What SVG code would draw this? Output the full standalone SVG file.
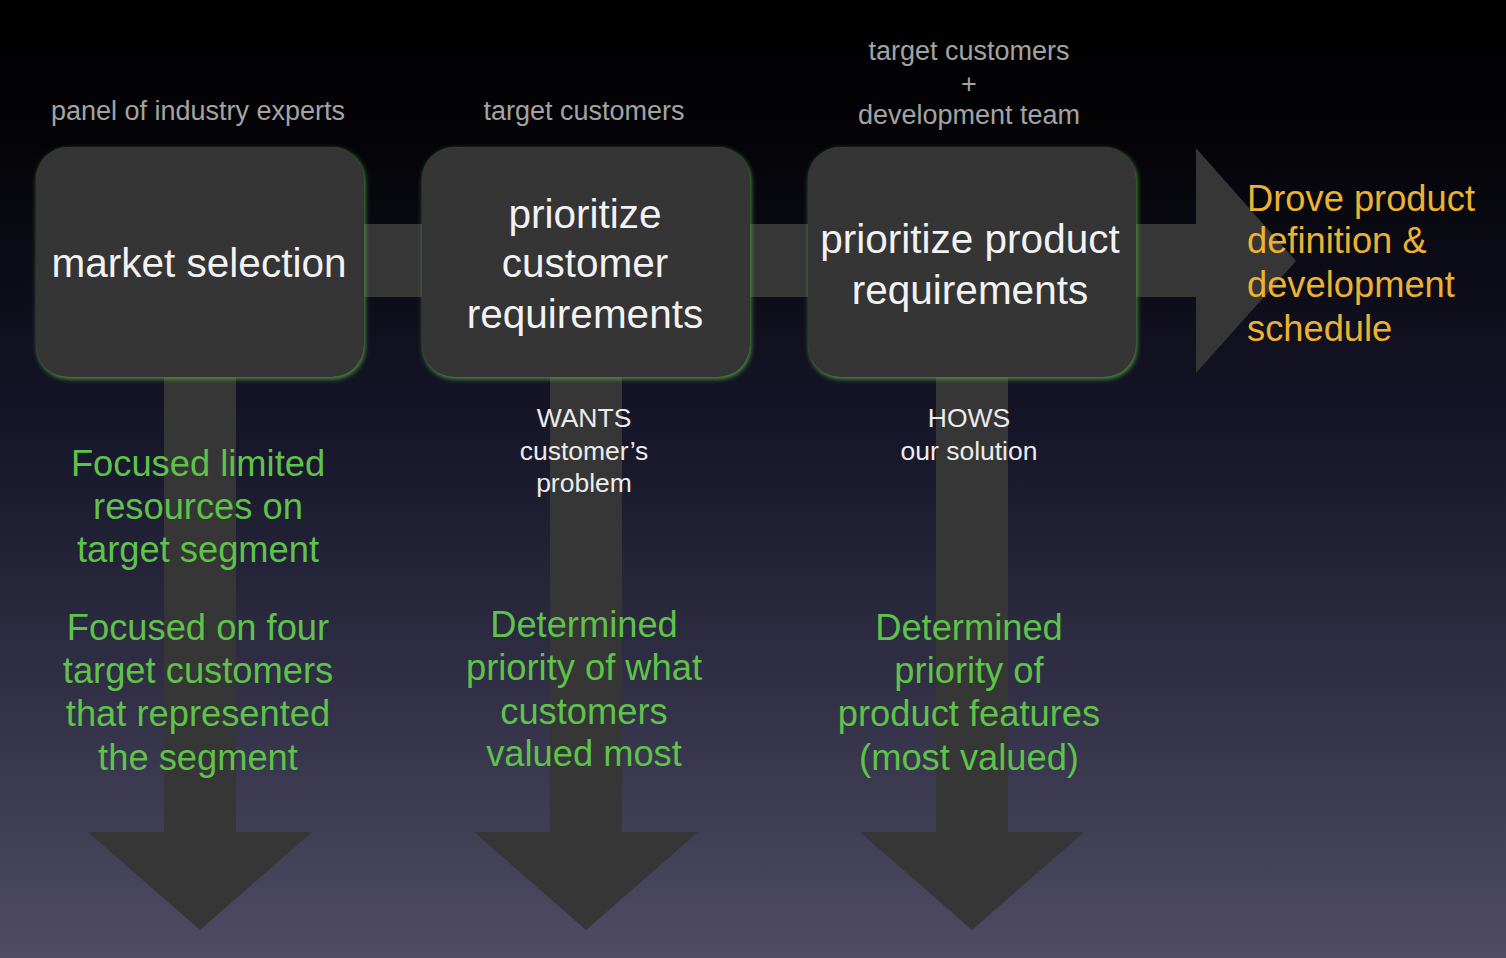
<svg xmlns="http://www.w3.org/2000/svg" width="1506" height="958" viewBox="0 0 1506 958">
<defs>
<linearGradient id="bg" x1="0" y1="0" x2="0" y2="1">
<stop offset="0" stop-color="#000000"/>
<stop offset="0.15" stop-color="#040408"/>
<stop offset="0.45" stop-color="#16162a"/>
<stop offset="0.75" stop-color="#343349"/>
<stop offset="1" stop-color="#4f4c64"/>
</linearGradient>
<filter id="glow" x="-10%" y="-10%" width="120%" height="120%">
<feDropShadow dx="1" dy="2" stdDeviation="2.5" flood-color="#5aa043" flood-opacity="0.9"/>
</filter>
<style>
.box{fill:#353535;filter:url(#glow)}
.bar{fill:#363636}
text{font-family:"Liberation Sans",Arial,Helvetica,sans-serif;text-anchor:middle}
.top{fill:#a3a3a3;font-size:27px}
.main{fill:#f2f2f2;font-size:40.5px}
.sub{fill:#ececec;font-size:26.5px}
.green{fill:#5fc24a;font-size:36.3px}
.orange{fill:#ecb232;font-size:36.3px;text-anchor:start}
</style>
</defs>
<rect x="0" y="0" width="1506" height="958" fill="url(#bg)"/>
<g id="connectors">
<polygon class="bar" points="360,224 1196,224 1196,148 1296,261 1196,373 1196,297 360,297"/>
<polygon class="bar" points="164,370 236,370 236,832 312,832 200,930 88,832 164,832"/>
<polygon class="bar" points="550,370 622,370 622,832 698,832 586,930 474,832 550,832"/>
<polygon class="bar" points="936,370 1008,370 1008,832 1084,832 972,930 860,832 936,832"/>
</g>
<g id="node-market-selection">
<rect class="box" x="36" y="147" width="328" height="230" rx="32"/>
<text class="main" x="199" y="277">market selection</text>
</g>
<g id="node-prioritize-customer">
<rect class="box" x="422" y="147" width="328" height="230" rx="32"/>
<text class="main" x="585" y="228">prioritize</text>
<text class="main" x="585" y="277">customer</text>
<text class="main" x="585" y="328">requirements</text>
</g>
<g id="node-prioritize-product">
<rect class="box" x="808" y="147" width="328" height="230" rx="32"/>
<text class="main" x="970" y="253">prioritize product</text>
<text class="main" x="970" y="304">requirements</text>
</g>
<g id="labels-top">
<text class="top" x="198" y="120">panel of industry experts</text>
<text class="top" x="584" y="120">target customers</text>
<text class="top" x="969" y="60">target customers</text>
<text class="top" x="969" y="93">+</text>
<text class="top" x="969" y="124">development team</text>
</g>
<g id="labels-sub">
<text class="sub" x="584" y="427">WANTS</text>
<text class="sub" x="584" y="460">customer’s</text>
<text class="sub" x="584" y="492">problem</text>
<text class="sub" x="969" y="427">HOWS</text>
<text class="sub" x="969" y="460">our solution</text>
</g>
<g id="outcome-market">
<text class="green" x="198" y="476">Focused limited</text>
<text class="green" x="198" y="519">resources on</text>
<text class="green" x="198" y="562">target segment</text>
<text class="green" x="198" y="640">Focused on four</text>
<text class="green" x="198" y="683">target customers</text>
<text class="green" x="198" y="726">that represented</text>
<text class="green" x="198" y="770">the segment</text>
</g>
<g id="outcome-customer">
<text class="green" x="584" y="637">Determined</text>
<text class="green" x="584" y="680">priority of what</text>
<text class="green" x="584" y="724">customers</text>
<text class="green" x="584" y="766">valued most</text>
</g>
<g id="outcome-product">
<text class="green" x="969" y="640">Determined</text>
<text class="green" x="969" y="683">priority of</text>
<text class="green" x="969" y="726">product features</text>
<text class="green" x="969" y="770">(most valued)</text>
</g>
<g id="outcome-final">
<text class="orange" x="1247" y="211">Drove product</text>
<text class="orange" x="1247" y="253">definition &amp;</text>
<text class="orange" x="1247" y="297">development</text>
<text class="orange" x="1247" y="341">schedule</text>
</g>
</svg>
